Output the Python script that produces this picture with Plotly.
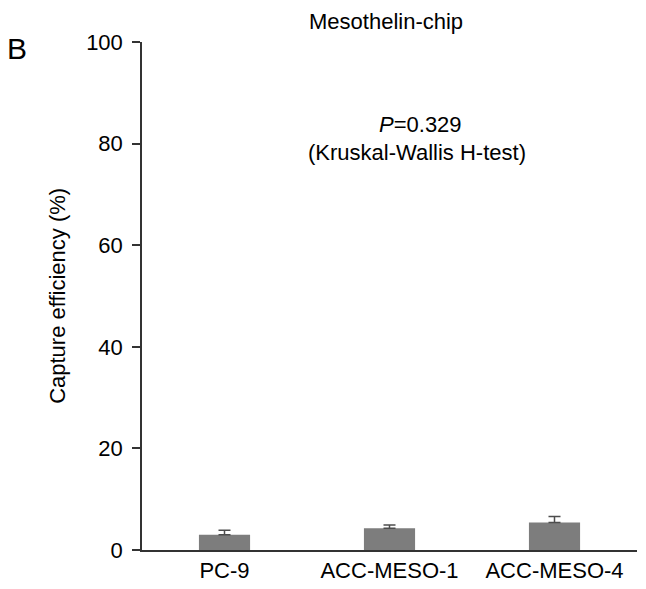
import plotly.graph_objects as go

categories = ["PC-9", "ACC-MESO-1", "ACC-MESO-4"]
means = [3.0, 4.3, 5.4]
errors = [0.9, 0.6, 1.2]
y_ticks = [0, 20, 40, 60, 80, 100]

FONT = "Liberation Sans, Arial, Helvetica, sans-serif"

fig = go.Figure()
fig.add_trace(go.Bar(
    x=categories, y=means,
    marker=dict(color="#7d7d7d", line=dict(width=0)),
    width=0.31,
    error_y=dict(type="data", symmetric=False, array=errors,
                 arrayminus=[0, 0, 0], color="#4d4d4d", thickness=1.5, width=6),
))

fig.update_layout(
    width=638, height=581,
    margin=dict(l=134, r=9, t=34, b=39, autoexpand=False),
    paper_bgcolor="white", plot_bgcolor="white",
    showlegend=False,
    font=dict(family=FONT, size=22, color="black"),
    xaxis=dict(
        type="category", range=[-0.5, 2.5],
        showline=True, linecolor="#333333", linewidth=1.5,
        ticks="", showgrid=False, zeroline=False,
        tickfont=dict(size=22), automargin=False, ticklabelstandoff=0,
    ),
    yaxis=dict(
        range=[0, 100], tickvals=y_ticks,
        showline=True, linecolor="#333333", linewidth=1.5,
        ticks="outside", ticklen=8, tickcolor="#333333", tickwidth=1.5,
        showgrid=False, zeroline=False,
        tickfont=dict(size=22), automargin=False, ticklabelstandoff=5,
    ),
    annotations=[
        dict(text="Mesothelin-chip", x=0.493, y=1.041, xref="paper", yref="paper",
             showarrow=False, font=dict(size=22), xanchor="center", yanchor="middle",
             borderpad=0),
        dict(text="B", x=-0.2525, y=0.988, xref="paper", yref="paper",
             showarrow=False, font=dict(size=30), xanchor="center", yanchor="middle"),
        dict(text="<i>P</i>=0.329", x=0.562, y=83.7, xref="paper", yref="y",
             showarrow=False, font=dict(size=22), xanchor="center", yanchor="middle"),
        dict(text="(Kruskal-Wallis H-test)", x=0.556, y=78.2, xref="paper", yref="y",
             showarrow=False, font=dict(size=22), xanchor="center", yanchor="middle"),
        dict(text="Capture efficiency (%)", x=-0.172, y=0.5, xref="paper", yref="paper",
             showarrow=False, font=dict(size=22), textangle=-90,
             xanchor="center", yanchor="middle"),
    ],
)

fig.write_html("out.html")
